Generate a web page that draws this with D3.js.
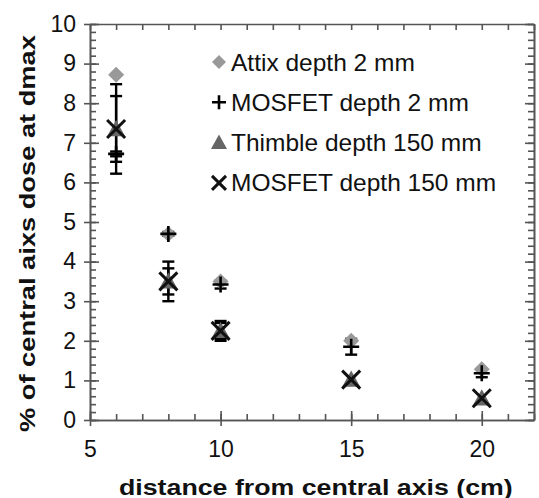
<!DOCTYPE html>
<html>
<head>
<meta charset="utf-8">
<script src="https://cdn.jsdelivr.net/npm/d3@7"></script>
<style>
body { margin: 0; background: #fff; }
svg text { font-family: "Liberation Sans", Arial, sans-serif; }
</style>
</head>
<body>
<script>
// distances (cm)
var distances = [6, 8, 10, 15, 20];

// series values, % of central axis dose at dmax
var attix2 = [8.72, 4.7, 3.5, 2.0, 1.28];
var mosfet2 = [6.72, 4.7, 3.42, 1.85, 1.18];
var mosfet2Err = [0.06, 0.05, 0.1, 0.2, 0.1];
var thimble150 = [7.35, 3.5, 2.25, 1.02, 0.55];
var thimble150Err = [0.83, 0.33, 0.2, 0, 0];
var mosfet150 = [7.35, 3.5, 2.25, 1.02, 0.55];
var mosfet150Err = [1.13, 0.5, 0.25, 0, 0];

var legendLabels = ['Attix depth 2 mm', 'MOSFET depth 2 mm', 'Thimble depth 150 mm', 'MOSFET depth 150 mm'];
var xTicks = [5, 10, 15, 20];
var yTicks = [0, 1, 2, 3, 4, 5, 6, 7, 8, 9, 10];

var W = 539, H = 498;
var axisColor = '#555';

var svg = d3.select('body').append('svg')
    .attr('width', W)
    .attr('height', H);

var x = d3.scaleLinear().domain([5, 22]).range([90, 534]);
var y = d3.scaleLinear().domain([0, 10]).range([420, 24]);

// ------------------------------------------------------------
// axes
function styleAxis(g) {
    g.selectAll('path, line').attr('stroke', axisColor).attr('stroke-width', 1.6);
    g.selectAll('text').attr('fill', '#111').style('font-size', '23px');
}

var minorX = d3.range(5, 23, 1);
var minorY = d3.range(0, 10.01, 0.2);

// bottom: minor ticks inside, major crossing
svg.append('g').attr('transform', 'translate(0,' + y(0) + ')')
    .call(d3.axisBottom(x).tickValues(minorX).tickSize(-6).tickFormat('').tickSizeOuter(0))
    .call(styleAxis);
svg.append('g').attr('transform', 'translate(0,' + y(0) + ')')
    .call(d3.axisBottom(x).tickValues(xTicks).tickSize(-9).tickFormat('').tickSizeOuter(0))
    .call(styleAxis);
svg.append('g').attr('transform', 'translate(0,' + y(0) + ')')
    .call(d3.axisBottom(x).tickValues(xTicks).tickSize(6).tickPadding(15).tickSizeOuter(0))
    .call(styleAxis)
    .call(function (g) { g.select('.domain').remove(); });

// top
svg.append('g').attr('transform', 'translate(0,' + y(10) + ')')
    .call(d3.axisTop(x).tickValues(minorX).tickSize(-6).tickFormat('').tickSizeOuter(0))
    .call(styleAxis);

// left: minor ticks inside, major crossing
svg.append('g').attr('transform', 'translate(' + x(5) + ',0)')
    .call(d3.axisLeft(y).tickValues(minorY).tickSize(-6).tickFormat('').tickSizeOuter(0))
    .call(styleAxis);
svg.append('g').attr('transform', 'translate(' + x(5) + ',0)')
    .call(d3.axisLeft(y).tickValues(yTicks).tickSize(-9).tickFormat('').tickSizeOuter(0))
    .call(styleAxis);
svg.append('g').attr('transform', 'translate(' + x(5) + ',0)')
    .call(d3.axisLeft(y).tickValues(yTicks).tickSize(6).tickPadding(8).tickSizeOuter(0))
    .call(styleAxis)
    .call(function (g) { g.select('.domain').remove(); });

// right
svg.append('g').attr('transform', 'translate(' + x(22) + ',0)')
    .call(d3.axisRight(y).tickValues(minorY).tickSize(-6).tickFormat('').tickSizeOuter(0))
    .call(styleAxis);
svg.append('g').attr('transform', 'translate(' + x(22) + ',0)')
    .call(d3.axisRight(y).tickValues(yTicks).tickSize(-9).tickFormat('').tickSizeOuter(0))
    .call(styleAxis);

// axis titles, stretched along their length to the width in the picture
function fitText(g, label, width) {
    var t = g.append('text')
        .style('font-size', '21.5px').style('font-weight', 'bold')
        .attr('fill', '#111')
        .text(label);
    var len = t.node().getComputedTextLength();
    t.attr('transform', 'scale(' + (width / len) + ',1)');
}

fitText(svg.append('g').attr('transform', 'translate(119,495)'),
    'distance from central axis  (cm)', 394);

fitText(svg.append('g').attr('transform', 'translate(35,432) rotate(-90)'),
    '% of central aixs dose at dmax', 397);

// ------------------------------------------------------------
// marker drawing
var marker = {
    diamond: function (g, s) {
        g.append('path').attr('d', 'M0,' + -s + 'L' + s + ',0L0,' + s + 'L' + -s + ',0Z')
            .attr('fill', '#999');
    },
    plus: function (g, s) {
        g.append('path').attr('d', 'M' + -s + ',0H' + s + 'M0,' + -s + 'V' + s)
            .attr('stroke', '#000').attr('stroke-width', 2.6);
    },
    triangle: function (g, s) {
        g.append('path').attr('d', 'M0,' + (-s) + 'L' + s + ',' + (s * 0.8) + 'L' + -s + ',' + (s * 0.8) + 'Z')
            .attr('fill', '#666');
    },
    cross: function (g, s) {
        g.append('path').attr('d', 'M' + -s + ',' + -s + 'L' + s + ',' + s + 'M' + s + ',' + -s + 'L' + -s + ',' + s)
            .attr('stroke', '#111').attr('stroke-width', 3);
    }
};

function errorBars(vals, errs) {
    var g = svg.append('g');
    distances.forEach(function (d, i) {
        if (!errs[i]) { return; }
        var cx = x(d), y0 = y(vals[i] - errs[i]), y1 = y(vals[i] + errs[i]);
        g.append('line').attr('x1', cx).attr('x2', cx).attr('y1', y0).attr('y2', y1)
            .attr('stroke', '#000').attr('stroke-width', 2.4);
        [y0, y1].forEach(function (yy) {
            g.append('line').attr('x1', cx - 6).attr('x2', cx + 6).attr('y1', yy).attr('y2', yy)
                .attr('stroke', '#000').attr('stroke-width', 2.4);
        });
    });
}

function series(vals, type, size) {
    var g = svg.append('g');
    distances.forEach(function (d, i) {
        var m = g.append('g').attr('transform', 'translate(' + x(d) + ',' + y(vals[i]) + ')');
        marker[type](m, size);
    });
}

errorBars(thimble150, thimble150Err);
errorBars(mosfet150, mosfet150Err);
errorBars(mosfet2, mosfet2Err);
series(attix2, 'diamond', 8);
series(thimble150, 'triangle', 9);
series(mosfet150, 'cross', 9);
series(mosfet2, 'plus', 8);

// ------------------------------------------------------------
// legend
var legendTypes = [['diamond', 7], ['plus', 7], ['triangle', 8], ['cross', 7]];
var legend = svg.append('g');
legendLabels.forEach(function (label, i) {
    var ly = 62 + i * 40.3;
    var m = legend.append('g').attr('transform', 'translate(219,' + ly + ')');
    marker[legendTypes[i][0]](m, legendTypes[i][1]);
    legend.append('text')
        .attr('x', 231).attr('y', ly + 8.5)
        .style('font-size', '24.5px')
        .attr('fill', '#111')
        .text(label);
});
</script>
</body>
</html>
